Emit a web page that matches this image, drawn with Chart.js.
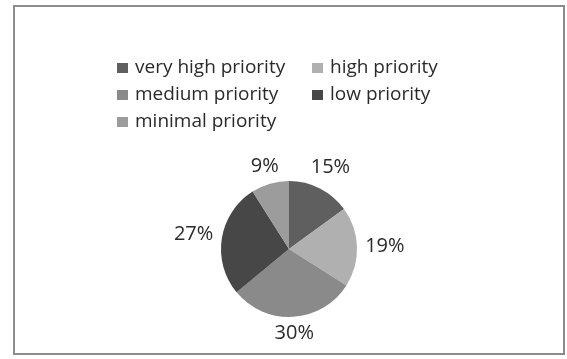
<!DOCTYPE html>
<html>
<head>
<meta charset="utf-8">
<script src="https://cdn.jsdelivr.net/npm/chart.js@4"></script>
<style>
  html, body { margin: 0; padding: 0; background: #fff; }
  #wrap { position: relative; width: 567px; height: 359px; }
  #frame {
    position: absolute; left: 13px; top: 5px; width: 552px; height: 350px;
    border: 2px solid #8c8c8c; box-sizing: border-box;
  }
  canvas { position: absolute; left: 0; top: 0; }
</style>
</head>
<body>
<div id="wrap">
  <div id="frame"></div>
  <canvas id="pie" width="567" height="359"></canvas>
</div>
<script>
// chart values
const categories = ['very high priority', 'high priority', 'medium priority', 'low priority', 'minimal priority'];
const shares = [15, 19, 30, 27, 9];
const sliceColors = ['#5f5f5f', '#b0b0b0', '#8a8a8a', '#474747', '#9c9c9c'];

const FONT = '"Open Sans", Lato, sans-serif';

// Two-column legend like the original sheet
const gridLegend = {
  id: 'gridLegend',
  afterDraw(chart) {
    const ctx = chart.ctx;
    const colX = [117, 312];
    const rowY = [68, 95, 122];
    ctx.save();
    ctx.font = '19px ' + FONT;
    ctx.textBaseline = 'middle';
    ctx.textAlign = 'left';
    chart.data.labels.forEach((label, i) => {
      const x = colX[i % 2];
      const y = rowY[Math.floor(i / 2)];
      ctx.fillStyle = chart.data.datasets[0].backgroundColor[i];
      ctx.fillRect(x, y - 5, 11, 10);
      ctx.fillStyle = '#2a2a2a';
      ctx.fillText(label, x + 18, y);
    });
    ctx.restore();
  }
};

// Percent labels outside each slice
const outsideLabels = {
  id: 'outsideLabels',
  afterDatasetsDraw(chart) {
    const ctx = chart.ctx;
    const meta = chart.getDatasetMeta(0);
    ctx.save();
    ctx.font = '20px ' + FONT;
    ctx.fillStyle = '#2a2a2a';
    ctx.textAlign = 'center';
    ctx.textBaseline = 'middle';
    meta.data.forEach((arc, i) => {
      const p = arc.getProps(['x', 'y', 'startAngle', 'endAngle', 'outerRadius']);
      const mid = (p.startAngle + p.endAngle) / 2;
      const dx = Math.cos(mid), dy = Math.sin(mid);
      const text = shares[i] + '%';
      const w = ctx.measureText(text).width, h = 14;
      const d = p.outerRadius + 8 + Math.abs(dx) * w / 2 + Math.abs(dy) * h / 2;
      ctx.fillText(text, p.x + dx * d, p.y + dy * d);
    });
    ctx.restore();
  }
};

new Chart(document.getElementById('pie'), {
  type: 'pie',
  data: {
    labels: categories,
    datasets: [{
      data: shares,
      backgroundColor: sliceColors,
      borderWidth: 0
    }]
  },
  options: {
    responsive: false,
    animation: false,
    layout: { padding: { top: 181, bottom: 42, left: 100, right: 89 } },
    plugins: {
      legend: { display: false },
      tooltip: { enabled: false }
    }
  },
  plugins: [gridLegend, outsideLabels]
});
</script>
</body>
</html>
